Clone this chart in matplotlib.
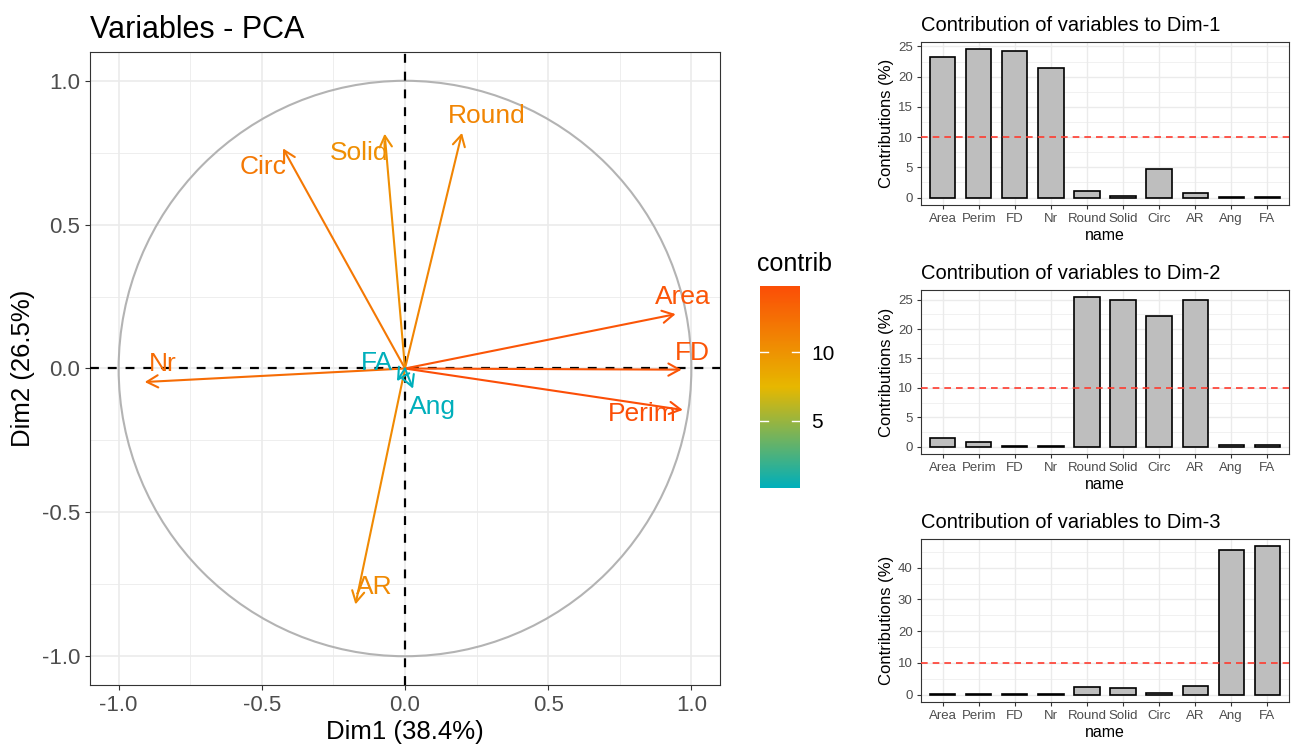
import numpy as np
import matplotlib
matplotlib.use("Agg")
import matplotlib.pyplot as plt
from matplotlib.colors import LinearSegmentedColormap, Normalize
from matplotlib.patches import FancyArrowPatch, Circle

plt.rcParams['font.family'] = ['Liberation Sans', 'DejaVu Sans']
plt.rcParams['axes.unicode_minus'] = False

# PCA variable coordinates (Dim1, Dim2)
variables = ['Area', 'FD', 'Perim', 'Nr', 'Circ', 'Solid', 'Round', 'AR', 'FA', 'Ang']
dim1 = [0.945, 0.966, 0.970, -0.909, -0.426, -0.071, 0.199, -0.173, -0.028, 0.028]
dim2 = [0.189, -0.004, -0.144, -0.047, 0.765, 0.816, 0.819, -0.820, -0.044, -0.070]
var_expl = [38.4, 26.5]

# contributions (%) per dimension
names = ['Area', 'Perim', 'FD', 'Nr', 'Round', 'Solid', 'Circ', 'AR', 'Ang', 'FA']
contrib_d1 = [23.2, 24.5, 24.2, 21.4, 1.1, 0.2, 4.7, 0.8, 0.05, 0.05]
contrib_d2 = [1.4, 0.8, 0.05, 0.15, 25.4, 25.0, 22.3, 25.0, 0.3, 0.2]
contrib_d3 = [0.1, 0.05, 0.3, 0.2, 2.3, 2.0, 0.6, 2.8, 45.5, 46.7]

# label offsets (pixels) from arrow tip, like the repelled labels in the original
label_off = {'Area': (7, 17), 'FD': (11, 17), 'Perim': (-41, -4), 'Nr': (18, 18),
             'Circ': (-20, -19), 'Solid': (-26, -19), 'Round': (25, 17), 'AR': (19, 17),
             'FA': (-20, 18), 'Ang': (19, -18)}

# contribution on plane 1-2, used for colour
c1 = dict(zip(names, contrib_d1))
c2 = dict(zip(names, contrib_d2))
contrib12 = np.array([(c1[v] * var_expl[0] + c2[v] * var_expl[1]) / sum(var_expl) for v in variables])

cmap = LinearSegmentedColormap.from_list('fx', ['#00AFBB', '#E7B800', '#FC4E07'])
norm = Normalize(contrib12.min(), contrib12.max())

grey30 = '#4D4D4D'
grid_col = '#EBEBEB'

fig = plt.figure(figsize=(12.93, 7.46), dpi=100)
W, H = 1293, 746


def px_axes(l, t, r, b):
    return fig.add_axes([l / W, 1 - b / H, (r - l) / W, (b - t) / H])


def style_bw(ax):
    for s in ax.spines.values():
        s.set_color('#333333')
        s.set_linewidth(0.8)
    ax.set_axisbelow(True)
    ax.tick_params(colors='#333333', labelcolor=grey30, length=3.5, width=0.8)


# ---------------- main PCA circle ----------------
ax = px_axes(90, 52, 720, 685)
style_bw(ax)
ax.set_xlim(-1.1, 1.1)
ax.set_ylim(-1.1, 1.1)
ticks = [-1.0, -0.5, 0.0, 0.5, 1.0]
ax.set_xticks(ticks)
ax.set_yticks(ticks)
ax.set_xticklabels([f'{t:.1f}' for t in ticks], fontsize=16)
ax.set_yticklabels([f'{t:.1f}' for t in ticks], fontsize=16)
ax.set_xticks(np.arange(-1.0, 1.01, 0.25), minor=True)
ax.set_yticks(np.arange(-1.0, 1.01, 0.25), minor=True)
ax.tick_params(which='minor', length=0)
ax.grid(which='major', color=grid_col, lw=1.2)
ax.grid(which='minor', color=grid_col, lw=0.6)
ax.set_xlabel(f'Dim1 ({var_expl[0]}%)', fontsize=18.5, labelpad=3)
ax.set_ylabel(f'Dim2 ({var_expl[1]}%)', fontsize=18.5, labelpad=5)
ax.set_title('Variables - PCA', fontsize=22, loc='left', x=0, pad=10)

ax.add_patch(Circle((0, 0), 1, fill=False, ec='#B3B3B3', lw=1.5, zorder=2))
ax.axhline(0, color='black', ls=(0, (4, 4)), lw=1.6, zorder=3)
ax.axvline(0, color='black', ls=(0, (4, 4)), lw=1.6, zorder=3)

for v, x, y, c in zip(variables, dim1, dim2, contrib12):
    col = cmap(norm(c))
    arr = FancyArrowPatch((0, 0), (x, y), arrowstyle='->,head_length=8,head_width=4.4',
                          mutation_scale=1, color=col, lw=1.5, shrinkA=0, shrinkB=0, zorder=4)
    ax.add_patch(arr)
    dx, dy = label_off[v]
    ax.annotate(v, (x, y), xytext=(dx * 0.72, dy * 0.72), textcoords='offset points',
                ha='center', va='center', fontsize=19, color=col, zorder=5)

# colourbar
cax = px_axes(760, 286, 800, 488)
grad = np.linspace(norm.vmin, norm.vmax, 256).reshape(-1, 1)
cax.imshow(grad, cmap=cmap, norm=norm, aspect='auto', origin='lower',
           extent=[0, 1, norm.vmin, norm.vmax])
cax.set_xticks([])
cax.yaxis.tick_right()
cax.set_yticks([5, 10])
cax.set_yticklabels(['5', '10'], fontsize=15, color='black')
cax.tick_params(axis='y', length=0, pad=8)
for s in cax.spines.values():
    s.set_visible(False)
for t in [5, 10]:
    cax.plot([0, 0.2], [t, t], color='white', lw=1)
    cax.plot([0.8, 1], [t, t], color='white', lw=1)
cax.set_xlim(0, 1)
cax.set_ylim(norm.vmin, norm.vmax)
fig.text(757 / W, 1 - 264 / H, 'contrib', fontsize=18, ha='left', va='center')

# ---------------- contribution bar charts ----------------
panels = [(contrib_d1, 'Dim-1', 42, 205, [0, 5, 10, 15, 20, 25]),
          (contrib_d2, 'Dim-2', 290, 454, [0, 5, 10, 15, 20, 25]),
          (contrib_d3, 'Dim-3', 539, 702, [0, 10, 20, 30, 40])]

xpos = np.arange(len(names))
for vals, dim, top, bot, yt in panels:
    bx = px_axes(921, top, 1289, bot)
    style_bw(bx)
    bx.bar(xpos, vals, width=0.7, color='#BEBEBE', edgecolor='black', lw=1.2, zorder=3)
    bx.axhline(10, color='#FF3B2F', ls=(0, (4, 3)), lw=1.2, zorder=4)
    mx = max(vals)
    bx.set_ylim(-0.05 * mx, mx * 1.05)
    bx.set_xlim(-0.6, len(names) - 0.4)
    bx.set_xticks(xpos)
    bx.set_xticklabels(names, fontsize=9.5)
    bx.set_yticks(yt)
    bx.set_yticklabels([str(t) for t in yt], fontsize=9.5)
    step = yt[1] - yt[0]
    bx.set_yticks(np.arange(step / 2, mx * 1.05, step), minor=True)
    bx.tick_params(which='minor', length=0)
    bx.tick_params(length=3, pad=3)
    bx.grid(which='major', color=grid_col, lw=1.0)
    bx.grid(which='minor', axis='y', color=grid_col, lw=0.5)
    bx.set_xlabel('name', fontsize=11.5, labelpad=2)
    bx.set_ylabel('Contributions (%)', fontsize=12, labelpad=3)
    bx.set_title(f'Contribution of variables to {dim}', fontsize=14.5, loc='left', x=0, pad=8)

fig.savefig('out.png', dpi=100)
